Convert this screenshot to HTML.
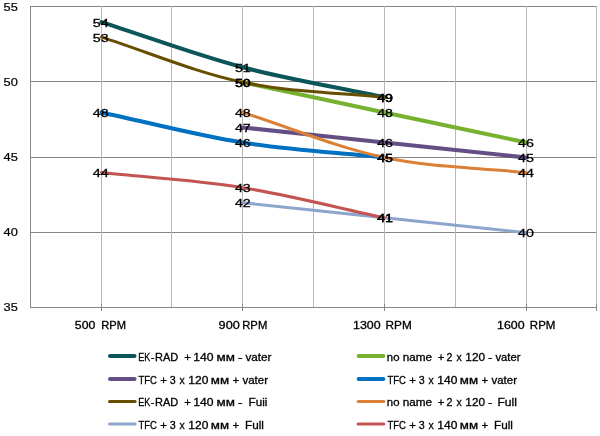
<!DOCTYPE html>
<html lang="ru"><head><meta charset="utf-8"><title>Chart</title>
<style>html,body{margin:0;padding:0;background:#fff;}body{width:600px;height:436px;overflow:hidden;}svg{display:block;}text{font-family:"Liberation Sans",sans-serif;font-size:10.9px;fill:#000;stroke:#000;stroke-width:0.3px;}.dl text{font-size:11.8px;stroke-width:0.3px;}.ya text{stroke-width:0.2px;}</style></head><body>
<svg width="600" height="436" viewBox="0 0 600 436">
<rect width="600" height="436" fill="#fff"/>
<g stroke="#868686" stroke-width="1" shape-rendering="crispEdges">
<line x1="30" y1="6.5" x2="597" y2="6.5"/>
<line x1="30" y1="81.5" x2="597" y2="81.5"/>
<line x1="30" y1="157.5" x2="597" y2="157.5"/>
<line x1="30" y1="232.5" x2="597" y2="232.5"/>
</g>
<g stroke="#B7B7B7" stroke-width="1" shape-rendering="crispEdges">
<line x1="101.5" y1="6" x2="101.5" y2="307"/>
<line x1="171.5" y1="6" x2="171.5" y2="307"/>
<line x1="242.5" y1="6" x2="242.5" y2="307"/>
<line x1="313.5" y1="6" x2="313.5" y2="307"/>
<line x1="384.5" y1="6" x2="384.5" y2="307"/>
<line x1="455.5" y1="6" x2="455.5" y2="307"/>
<line x1="526.5" y1="6" x2="526.5" y2="307"/>
<line x1="596.5" y1="6" x2="596.5" y2="307"/>
</g>
<g stroke="#868686" stroke-width="1" shape-rendering="crispEdges">
<line x1="30.5" y1="6" x2="30.5" y2="308"/>
<line x1="30" y1="307.5" x2="597" y2="307.5"/>
<line x1="101.5" y1="304" x2="101.5" y2="311"/>
<line x1="242.5" y1="304" x2="242.5" y2="311"/>
<line x1="384.5" y1="304" x2="384.5" y2="311"/>
<line x1="526.5" y1="304" x2="526.5" y2="311"/>
<line x1="596.5" y1="304" x2="596.5" y2="311"/>
</g>
<g fill="none" stroke-linecap="round" stroke-linejoin="round">
<path d="M101.50 22.10 C148.50 37.15 194.87 54.58 242.50 67.25 C289.20 79.67 337.17 87.32 384.50 97.35" stroke="#0C5559" stroke-width="4.10"/>
<path d="M242.50 82.30 C289.83 92.33 337.17 102.37 384.50 112.40 C431.83 122.43 479.17 132.47 526.50 142.50" stroke="#76B230" stroke-width="4.10"/>
<path d="M242.50 127.45 C289.83 132.47 337.17 137.48 384.50 142.50 C431.83 147.52 479.17 152.53 526.50 157.55" stroke="#644E84" stroke-width="4.10"/>
<path d="M101.50 112.40 C148.50 122.43 195.11 134.94 242.50 142.50 C289.44 149.99 337.17 152.53 384.50 157.55" stroke="#0070C0" stroke-width="4.10"/>
<path d="M101.50 37.15 C148.50 52.20 194.48 72.09 242.50 82.30 C288.81 92.15 337.17 92.33 384.50 97.35" stroke="#684E00" stroke-width="3.00"/>
<path d="M242.50 112.40 C289.83 127.45 336.16 147.30 384.50 157.55 C430.83 167.37 479.17 167.58 526.50 172.60" stroke="#DA8037" stroke-width="3.00"/>
<path d="M242.50 202.70 C289.83 207.72 337.17 212.73 384.50 217.75 C431.83 222.77 479.17 227.78 526.50 232.80" stroke="#8CA5CB" stroke-width="3.00"/>
<path d="M101.50 172.60 C148.50 177.62 195.88 180.21 242.50 187.65 C290.22 195.26 337.17 207.72 384.50 217.75" stroke="#C25552" stroke-width="3.00"/>
</g>
<g class="dl">
<text x="92.80" y="26.5" textLength="15.85" lengthAdjust="spacingAndGlyphs">54</text>
<text x="234.90" y="71.5" textLength="15.85" lengthAdjust="spacingAndGlyphs">51</text>
<text x="377.15" y="101.5" textLength="15.85" lengthAdjust="spacingAndGlyphs">49</text>
<text x="234.90" y="86.5" textLength="15.85" lengthAdjust="spacingAndGlyphs">50</text>
<text x="377.15" y="116.5" textLength="15.85" lengthAdjust="spacingAndGlyphs">48</text>
<text x="518.00" y="146.5" textLength="15.85" lengthAdjust="spacingAndGlyphs">46</text>
<text x="234.90" y="131.5" textLength="15.85" lengthAdjust="spacingAndGlyphs">47</text>
<text x="377.15" y="146.5" textLength="15.85" lengthAdjust="spacingAndGlyphs">46</text>
<text x="518.00" y="161.5" textLength="15.85" lengthAdjust="spacingAndGlyphs">45</text>
<text x="92.80" y="116.5" textLength="15.85" lengthAdjust="spacingAndGlyphs">48</text>
<text x="234.90" y="146.5" textLength="15.85" lengthAdjust="spacingAndGlyphs">46</text>
<text x="377.15" y="161.5" textLength="15.85" lengthAdjust="spacingAndGlyphs">45</text>
<text x="92.80" y="41.5" textLength="15.85" lengthAdjust="spacingAndGlyphs">53</text>
<text x="234.90" y="86.5" textLength="15.85" lengthAdjust="spacingAndGlyphs">50</text>
<text x="377.15" y="101.5" textLength="15.85" lengthAdjust="spacingAndGlyphs">49</text>
<text x="234.90" y="116.5" textLength="15.85" lengthAdjust="spacingAndGlyphs">48</text>
<text x="377.15" y="161.5" textLength="15.85" lengthAdjust="spacingAndGlyphs">45</text>
<text x="518.00" y="176.5" textLength="15.85" lengthAdjust="spacingAndGlyphs">44</text>
<text x="234.90" y="206.5" textLength="15.85" lengthAdjust="spacingAndGlyphs">42</text>
<text x="377.15" y="221.5" textLength="15.85" lengthAdjust="spacingAndGlyphs">41</text>
<text x="518.00" y="236.5" textLength="15.85" lengthAdjust="spacingAndGlyphs">40</text>
<text x="92.80" y="176.5" textLength="15.85" lengthAdjust="spacingAndGlyphs">44</text>
<text x="234.90" y="191.5" textLength="15.85" lengthAdjust="spacingAndGlyphs">43</text>
<text x="377.15" y="221.5" textLength="15.85" lengthAdjust="spacingAndGlyphs">41</text>
</g>
<g class="ya">
<text x="3.58" y="11" textLength="14.26" lengthAdjust="spacingAndGlyphs">55</text>
<text x="3.58" y="86" textLength="14.26" lengthAdjust="spacingAndGlyphs">50</text>
<text x="3.58" y="161" textLength="14.26" lengthAdjust="spacingAndGlyphs">45</text>
<text x="3.58" y="236" textLength="14.26" lengthAdjust="spacingAndGlyphs">40</text>
<text x="3.58" y="311" textLength="14.26" lengthAdjust="spacingAndGlyphs">35</text>
</g>
<text y="329.0"><tspan x="74.85" textLength="20.49" lengthAdjust="spacingAndGlyphs">500</tspan> <tspan x="101.22" textLength="24.74" lengthAdjust="spacingAndGlyphs">RPM</tspan></text>
<text y="329.0"><tspan x="218.62" textLength="21.16" lengthAdjust="spacingAndGlyphs">900</tspan> <tspan x="242.25" textLength="25.00" lengthAdjust="spacingAndGlyphs">RPM</tspan></text>
<text y="329.0"><tspan x="353.00" textLength="27.62" lengthAdjust="spacingAndGlyphs">1300</tspan> <tspan x="385.59" textLength="26.20" lengthAdjust="spacingAndGlyphs">RPM</tspan></text>
<text y="329.0"><tspan x="497.00" textLength="27.62" lengthAdjust="spacingAndGlyphs">1600</tspan> <tspan x="529.85" textLength="25.53" lengthAdjust="spacingAndGlyphs">RPM</tspan></text>
<line x1="110.0" y1="356.0" x2="134.5" y2="356.0" stroke="#0C5559" stroke-width="4.10" stroke-linecap="round"/>
<text y="360.7"><tspan x="138.18" textLength="12.04" lengthAdjust="spacingAndGlyphs">EK</tspan><tspan x="150.88" textLength="3.80" lengthAdjust="spacingAndGlyphs">-</tspan><tspan x="155.04" textLength="23.26" lengthAdjust="spacingAndGlyphs">RAD</tspan> <tspan x="184.29" textLength="6.66" lengthAdjust="spacingAndGlyphs">+</tspan> <tspan x="193.22" textLength="20.28" lengthAdjust="spacingAndGlyphs">140</tspan> <tspan x="216.56" textLength="18.39" lengthAdjust="spacingAndGlyphs">мм</tspan> <tspan x="237.70" textLength="4.91" lengthAdjust="spacingAndGlyphs">-</tspan> <tspan x="245.46" textLength="26.08" lengthAdjust="spacingAndGlyphs">vater</tspan></text>
<line x1="110.0" y1="379.0" x2="134.5" y2="379.0" stroke="#644E84" stroke-width="4.10" stroke-linecap="round"/>
<text y="383.7"><tspan x="138.41" textLength="18.49" lengthAdjust="spacingAndGlyphs">TFC</tspan> <tspan x="160.29" textLength="6.66" lengthAdjust="spacingAndGlyphs">+</tspan> <tspan x="169.76" textLength="5.93" lengthAdjust="spacingAndGlyphs">3</tspan> <tspan x="179.44" textLength="5.21" lengthAdjust="spacingAndGlyphs">x</tspan> <tspan x="188.30" textLength="20.02" lengthAdjust="spacingAndGlyphs">120</tspan> <tspan x="210.78" textLength="18.25" lengthAdjust="spacingAndGlyphs">мм</tspan> <tspan x="232.59" textLength="6.66" lengthAdjust="spacingAndGlyphs">+</tspan> <tspan x="242.46" textLength="25.59" lengthAdjust="spacingAndGlyphs">vater</tspan></text>
<line x1="109.5" y1="401.5" x2="135.1" y2="401.5" stroke="#684E00" stroke-width="3.00" stroke-linecap="round"/>
<text y="406.2"><tspan x="138.18" textLength="12.04" lengthAdjust="spacingAndGlyphs">EK</tspan><tspan x="150.88" textLength="3.80" lengthAdjust="spacingAndGlyphs">-</tspan><tspan x="155.04" textLength="23.26" lengthAdjust="spacingAndGlyphs">RAD</tspan> <tspan x="184.29" textLength="6.66" lengthAdjust="spacingAndGlyphs">+</tspan> <tspan x="193.22" textLength="20.28" lengthAdjust="spacingAndGlyphs">140</tspan> <tspan x="216.56" textLength="18.39" lengthAdjust="spacingAndGlyphs">мм</tspan> <tspan x="237.70" textLength="4.91" lengthAdjust="spacingAndGlyphs">-</tspan> <tspan x="248.55" textLength="18.91" lengthAdjust="spacingAndGlyphs">Fuii</tspan></text>
<line x1="109.5" y1="424.0" x2="135.1" y2="424.0" stroke="#8CA5CB" stroke-width="3.00" stroke-linecap="round"/>
<text y="428.7"><tspan x="138.41" textLength="18.49" lengthAdjust="spacingAndGlyphs">TFC</tspan> <tspan x="160.29" textLength="6.66" lengthAdjust="spacingAndGlyphs">+</tspan> <tspan x="169.76" textLength="5.93" lengthAdjust="spacingAndGlyphs">3</tspan> <tspan x="179.44" textLength="5.21" lengthAdjust="spacingAndGlyphs">x</tspan> <tspan x="188.30" textLength="20.02" lengthAdjust="spacingAndGlyphs">120</tspan> <tspan x="210.78" textLength="18.25" lengthAdjust="spacingAndGlyphs">мм</tspan> <tspan x="232.59" textLength="6.66" lengthAdjust="spacingAndGlyphs">+</tspan> <tspan x="245.05" textLength="18.91" lengthAdjust="spacingAndGlyphs">Full</tspan></text>
<line x1="358.7" y1="356.0" x2="383.3" y2="356.0" stroke="#76B230" stroke-width="4.10" stroke-linecap="round"/>
<text y="360.7"><tspan x="386.85" textLength="12.67" lengthAdjust="spacingAndGlyphs">no</tspan> <tspan x="402.73" textLength="29.46" lengthAdjust="spacingAndGlyphs">name</tspan> <tspan x="437.74" textLength="6.66" lengthAdjust="spacingAndGlyphs">+</tspan> <tspan x="446.61" textLength="5.92" lengthAdjust="spacingAndGlyphs">2</tspan> <tspan x="456.44" textLength="5.21" lengthAdjust="spacingAndGlyphs">x</tspan> <tspan x="465.33" textLength="19.75" lengthAdjust="spacingAndGlyphs">120</tspan> <tspan x="487.93" textLength="4.28" lengthAdjust="spacingAndGlyphs">-</tspan> <tspan x="495.46" textLength="25.09" lengthAdjust="spacingAndGlyphs">vater</tspan></text>
<line x1="358.7" y1="379.0" x2="383.3" y2="379.0" stroke="#0070C0" stroke-width="4.10" stroke-linecap="round"/>
<text y="383.7"><tspan x="387.41" textLength="18.49" lengthAdjust="spacingAndGlyphs">TFC</tspan> <tspan x="409.29" textLength="6.66" lengthAdjust="spacingAndGlyphs">+</tspan> <tspan x="418.76" textLength="5.93" lengthAdjust="spacingAndGlyphs">3</tspan> <tspan x="428.44" textLength="5.21" lengthAdjust="spacingAndGlyphs">x</tspan> <tspan x="437.30" textLength="20.02" lengthAdjust="spacingAndGlyphs">140</tspan> <tspan x="459.77" textLength="18.25" lengthAdjust="spacingAndGlyphs">мм</tspan> <tspan x="481.59" textLength="6.66" lengthAdjust="spacingAndGlyphs">+</tspan> <tspan x="491.46" textLength="25.59" lengthAdjust="spacingAndGlyphs">vater</tspan></text>
<line x1="358.1" y1="401.5" x2="383.9" y2="401.5" stroke="#DA8037" stroke-width="3.00" stroke-linecap="round"/>
<text y="406.2"><tspan x="386.85" textLength="12.67" lengthAdjust="spacingAndGlyphs">no</tspan> <tspan x="402.73" textLength="29.46" lengthAdjust="spacingAndGlyphs">name</tspan> <tspan x="437.74" textLength="6.66" lengthAdjust="spacingAndGlyphs">+</tspan> <tspan x="446.61" textLength="5.92" lengthAdjust="spacingAndGlyphs">2</tspan> <tspan x="456.44" textLength="5.21" lengthAdjust="spacingAndGlyphs">x</tspan> <tspan x="465.33" textLength="19.75" lengthAdjust="spacingAndGlyphs">120</tspan> <tspan x="487.93" textLength="4.28" lengthAdjust="spacingAndGlyphs">-</tspan> <tspan x="497.42" textLength="19.59" lengthAdjust="spacingAndGlyphs">Full</tspan></text>
<line x1="358.1" y1="424.0" x2="383.9" y2="424.0" stroke="#C25552" stroke-width="3.00" stroke-linecap="round"/>
<text y="428.7"><tspan x="387.41" textLength="18.49" lengthAdjust="spacingAndGlyphs">TFC</tspan> <tspan x="409.29" textLength="6.66" lengthAdjust="spacingAndGlyphs">+</tspan> <tspan x="418.76" textLength="5.93" lengthAdjust="spacingAndGlyphs">3</tspan> <tspan x="428.44" textLength="5.21" lengthAdjust="spacingAndGlyphs">x</tspan> <tspan x="437.30" textLength="20.02" lengthAdjust="spacingAndGlyphs">140</tspan> <tspan x="459.77" textLength="18.25" lengthAdjust="spacingAndGlyphs">мм</tspan> <tspan x="481.59" textLength="6.66" lengthAdjust="spacingAndGlyphs">+</tspan> <tspan x="494.05" textLength="18.91" lengthAdjust="spacingAndGlyphs">Full</tspan></text>
</svg></body></html>
